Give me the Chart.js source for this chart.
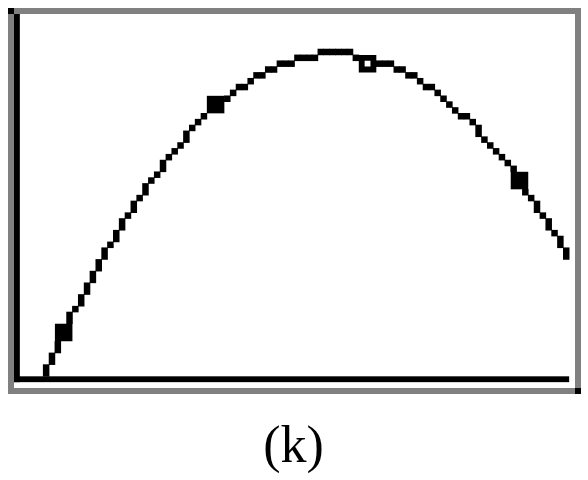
<!DOCTYPE html>
<html>
<head>
<meta charset="utf-8">
<script src="https://cdn.jsdelivr.net/npm/chart.js@4/dist/chart.umd.min.js"></script>
<style>
  html, body { margin: 0; padding: 0; background: #fff; }
</style>
</head>
<body>
<canvas id="graph" width="588" height="480"></canvas>
<script>
// screen columns that carry the curve, with the lowest and highest lit row of each
const columns = [5, 6, 7, 9, 10, 11, 12, 13, 14, 15, 16, 17, 18, 19, 20, 21, 22, 23, 24, 25, 26, 27, 28, 29, 30, 31, 32,
  36, 37, 38, 39, 40, 41, 42, 43, 44, 45, 46, 47, 48, 49, 50, 51, 52, 53, 54, 55, 56, 57, 58,
  62, 63, 64, 65, 66, 67, 68, 69, 70, 71, 72, 73, 74, 75, 76, 77, 78, 79, 80, 81, 82, 83, 84, 85,
  87, 88, 89, 90, 91, 92, 93, 94];
const lows = [1, 3, 5, 10, 12, 13, 15, 17, 19, 21, 23, 24, 26, 28, 29, 31, 32, 34, 35, 36, 38, 39, 40, 41, 43, 44, 45,
  48, 49, 50, 50, 51, 52, 52, 53, 53, 54, 54, 54, 55, 55, 55, 55, 56, 56, 56, 56, 56, 56, 55,
  54, 54, 54, 53, 53, 52, 52, 51, 50, 50, 49, 48, 47, 46, 45, 45, 44, 42, 41, 40, 39, 38, 37, 36,
  32, 31, 29, 28, 26, 25, 23, 21];
const highs = [2, 4, 6, 11, 12, 14, 16, 18, 20, 22, 23, 25, 27, 28, 30, 31, 33, 34, 35, 37, 38, 39, 40, 42, 43, 44, 45,
  48, 49, 50, 50, 51, 52, 52, 53, 53, 54, 54, 54, 55, 55, 55, 55, 56, 56, 56, 56, 56, 56, 55,
  54, 54, 54, 53, 53, 52, 52, 51, 50, 50, 49, 48, 47, 46, 45, 45, 44, 43, 41, 40, 39, 38, 37, 36,
  32, 31, 30, 28, 27, 25, 24, 22];

// marked points: filled squares and the open one at the top
const markX = [8, 34, 86];
const markY = [8, 47, 34];
const openX = [60];
const openY = [54];

const caption = '(k)';

// width of one screen pixel on the canvas
function pitch(chart) {
  const x = chart.scales.x;
  return x.getPixelForValue(1) - x.getPixelForValue(0);
}

const screenFrame = {
  id: 'screenFrame',
  beforeDatasetsDraw(chart) {
    const { ctx, scales: { x, y } } = chart;
    ctx.save();
    ctx.fillStyle = '#000';
    // axes
    const ax0 = x.getPixelForValue(-0.5), ax1 = x.getPixelForValue(0.5);
    ctx.fillRect(ax0, y.getPixelForValue(62.5), ax1 - ax0, y.getPixelForValue(-0.5) - y.getPixelForValue(62.5));
    const ay0 = y.getPixelForValue(0.5), ay1 = y.getPixelForValue(-0.5);
    ctx.fillRect(ax0, ay0, x.getPixelForValue(94.5) - ax0, ay1 - ay0);
    ctx.restore();
  },
  afterDraw(chart) {
    const { ctx, chartArea: a } = chart;
    ctx.save();
    ctx.strokeStyle = '#808080';
    ctx.lineWidth = 6;
    ctx.strokeRect(a.left - 3, a.top - 3, a.right - a.left + 6, a.bottom - a.top + 6);
    ctx.fillStyle = '#000';
    ctx.fillRect(a.left - 6, a.top - 6, 6, 6);
    ctx.fillRect(a.right, a.bottom, 6, 6);
    ctx.font = '52px "Liberation Serif", serif';
    ctx.textAlign = 'center';
    ctx.textBaseline = 'alphabetic';
    ctx.fillText(caption, (a.left + a.right) / 2 - 1, 462);
    ctx.restore();
  }
};

new Chart(document.getElementById('graph'), {
  type: 'bar',
  data: {
    datasets: [{
      type: 'scatter',
      data: openX.map((v, i) => ({ x: v, y: openY[i] })),
      pointStyle: 'rect',
      pointRadius: ctx => Math.SQRT2 * pitch(ctx.chart),
      pointBorderWidth: ctx => pitch(ctx.chart),
      pointBorderColor: '#000',
      pointBackgroundColor: '#fff'
    }, {
      type: 'scatter',
      data: markX.map((v, i) => ({ x: v, y: markY[i] })),
      pointStyle: 'rect',
      pointRadius: ctx => 3 * pitch(ctx.chart) / Math.SQRT2,
      pointBorderWidth: 0,
      pointBackgroundColor: '#000'
    }, {
      data: columns.map((c, i) => ({ x: c, y: [lows[i] - 0.5, highs[i] + 0.5] })),
      backgroundColor: '#000',
      borderWidth: 0,
      barPercentage: 1,
      categoryPercentage: 1
    }]
  },
  options: {
    responsive: false,
    animation: false,
    events: [],
    layout: { padding: { left: 14, right: 13, top: 14, bottom: 92 } },
    plugins: { legend: { display: false }, tooltip: { enabled: false } },
    scales: {
      x: { type: 'linear', min: -0.5, max: 95.5, offset: false, display: false },
      y: { type: 'linear', min: -1.5, max: 62.5, display: false }
    }
  },
  plugins: [screenFrame]
});
</script>
</body>
</html>
